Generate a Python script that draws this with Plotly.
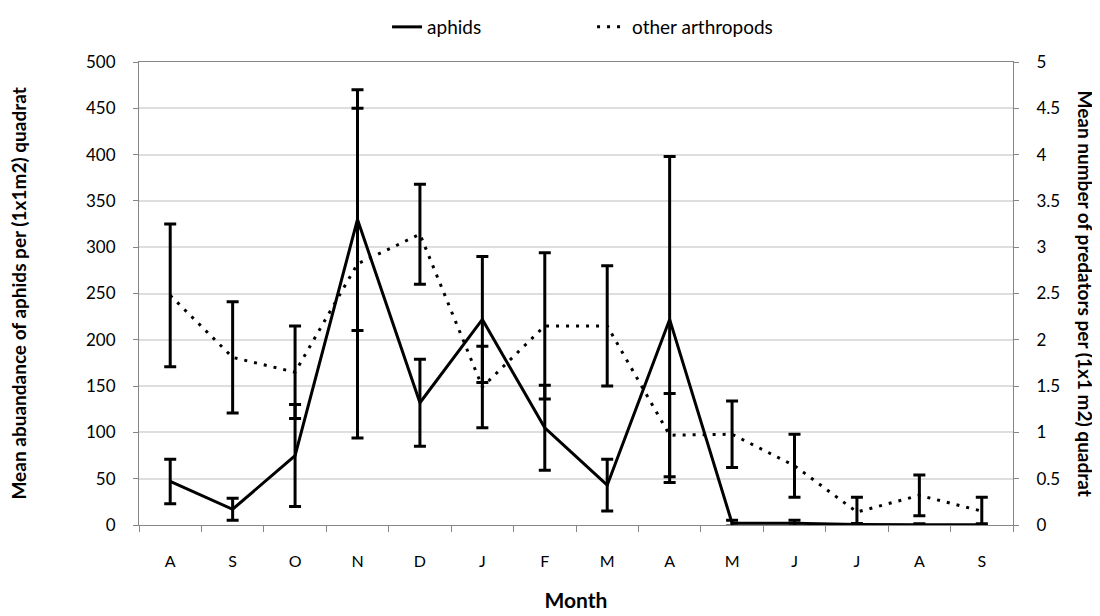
import plotly.graph_objects as go

months = ["A", "S", "O", "N", "D", "J", "F", "M", "A", "M", "J", "J", "A", "S"]
aphids = [47, 17, 75, 330, 132, 222, 105, 43, 222, 2, 2, 0.5, 0.3, 0.3]
aphids_err = [24, 12, 55, 120, 47, 68, 46, 28, 176, 3, 3, 1, 1, 1]
predators = [2.48, 1.81, 1.65, 2.82, 3.14, 1.49, 2.15, 2.15, 0.97, 0.98, 0.64, 0.14, 0.32, 0.15]
predators_err = [0.77, 0.60, 0.50, 1.88, 0.54, 0.44, 0.79, 0.65, 0.45, 0.36, 0.34, 0.16, 0.22, 0.15]

xpos = list(range(len(months)))
FONT = "Lato"

fig = go.Figure()
fig.add_trace(go.Scatter(
    x=xpos, y=aphids, name="aphids", mode="lines",
    line=dict(color="black", width=3),
    error_y=dict(type="data", array=aphids_err, visible=True, color="black", thickness=3, width=6),
    yaxis="y",
))
fig.add_trace(go.Scatter(
    x=xpos, y=predators, name="other arthropods", mode="lines",
    line=dict(color="black", width=3, dash="3px,7px"),
    error_y=dict(type="data", array=predators_err, visible=True, color="black", thickness=3, width=6),
    yaxis="y2",
))

# page body has an 8px margin, so the figure is sized 1092x608
fig.update_layout(
    width=1092, height=608,
    paper_bgcolor="white", plot_bgcolor="white",
    margin=dict(l=131, r=87, t=54, b=91, autoexpand=False),
    font=dict(family=FONT, color="black", size=17),
    showlegend=True,
    legend=dict(orientation="h", x=0.2838, xanchor="left", y=1.1166, yanchor="top",
                font=dict(size=19, family=FONT), entrywidth=160, entrywidthmode="pixels",
                bgcolor="rgba(0,0,0,0)", borderwidth=0),
    xaxis=dict(
        range=[-0.5, 13.5], tickmode="array", tickvals=xpos, ticktext=months,
        ticks="", showgrid=False, zeroline=False, automargin=False,
        showline=True, linecolor="#868686", linewidth=1, mirror=True,
        ticklabelstandoff=22,
        tickfont=dict(size=16, family=FONT),
        minor=dict(tickmode="linear", tick0=-0.5, dtick=1, ticks="outside", ticklen=6,
                   tickcolor="#868686", tickwidth=1, showgrid=False),
        title=dict(text="<b>Month</b>", font=dict(size=21, family=FONT), standoff=24),
    ),
    yaxis=dict(
        range=[0, 500], tickmode="linear", tick0=0, dtick=50, automargin=False,
        showgrid=True, gridcolor="#dedede", gridwidth=2, zeroline=False,
        showline=True, linecolor="#868686", linewidth=1,
        ticks="outside", ticklen=5, tickcolor="#868686",
        ticklabelstandoff=14, tickfont=dict(size=17, family=FONT),
    ),
    yaxis2=dict(
        range=[0, 5], tickmode="linear", tick0=0, dtick=0.5, overlaying="y", side="right",
        showgrid=False, zeroline=False, automargin=False,
        showline=True, linecolor="#868686", linewidth=1,
        ticks="outside", ticklen=5, tickcolor="#868686",
        ticklabelstandoff=14, tickfont=dict(size=17, family=FONT),
    ),
)

fig.add_annotation(
    text="<b>Mean abuandance of aphids per (1x1m2) quadrat</b>",
    xref="paper", yref="paper", x=-0.1384, y=0.5, textangle=-90, showarrow=False,
    font=dict(size=19, family=FONT), xanchor="center", yanchor="middle",
)
fig.add_annotation(
    text="<b>Mean number of predators per (1x1 m2) quadrat</b>",
    xref="paper", yref="paper", x=1.0824, y=0.5, textangle=90, showarrow=False,
    font=dict(size=19, family=FONT), xanchor="center", yanchor="middle",
)

fig.write_html("out.html")
